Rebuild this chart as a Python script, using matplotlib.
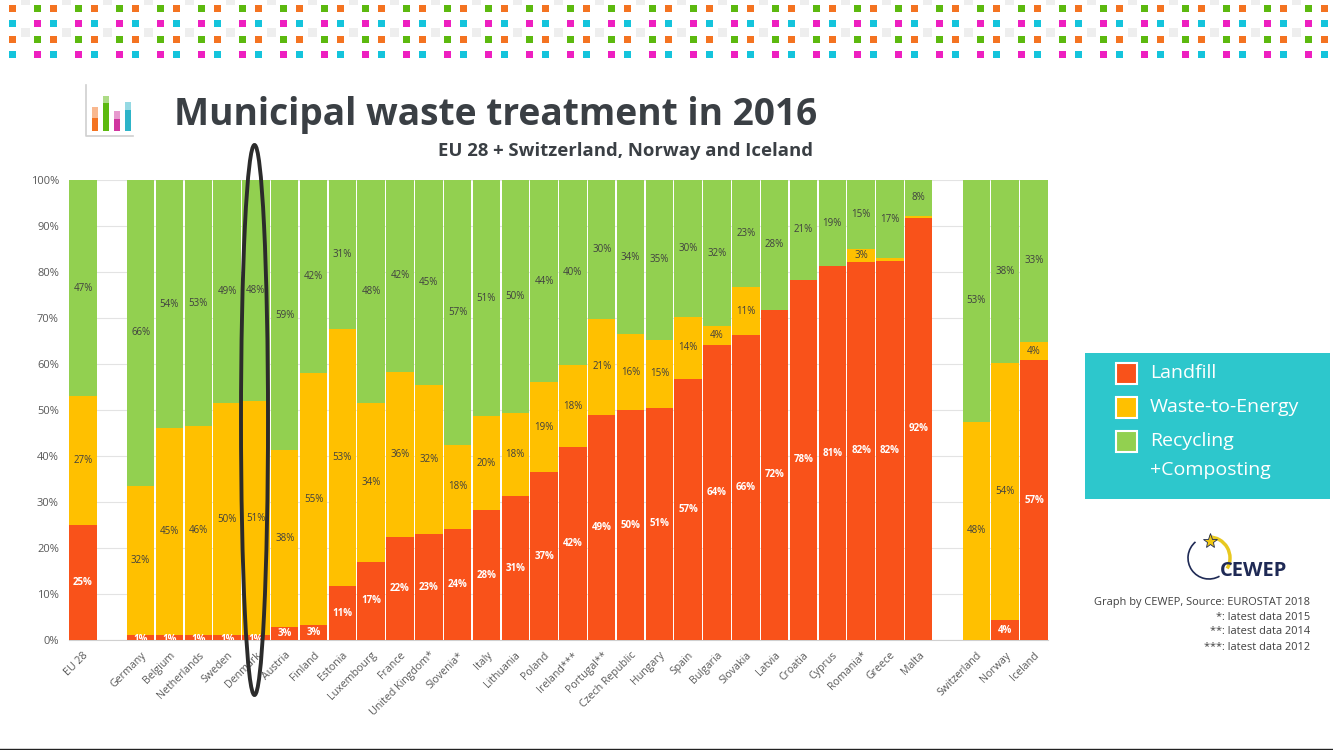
import numpy as np
import matplotlib
matplotlib.use('Agg')
import matplotlib.pyplot as plt
from matplotlib.patches import Ellipse, Rectangle, Arc
from matplotlib.transforms import ScaledTranslation

plt.rcParams['font.family'] = ['Open Sans', 'DejaVu Sans']

countries = ['EU 28', '', 'Germany', 'Belgium', 'Netherlands', 'Sweden', 'Denmark', 'Austria',
             'Finland', 'Estonia', 'Luxembourg', 'France', 'United Kingdom*', 'Slovenia*',
             'Italy', 'Lithuania', 'Poland', 'Ireland***', 'Portugal**', 'Czech Republic',
             'Hungary', 'Spain', 'Bulgaria', 'Slovakia', 'Latvia', 'Croatia', 'Cyprus',
             'Romania*', 'Greece', 'Malta', '', 'Switzerland', 'Norway', 'Iceland']

# bar heights
landfill = [25, 0, 1, 1, 1, 1, 1, 2.8, 3.2, 11.7, 17, 22.3, 23, 24.2, 28.2, 31.2, 36.5, 42, 49,
            50, 50.5, 56.8, 64.2, 66.2, 71.8, 78.3, 81.2, 82.2, 82.5, 91.8, 0, 0, 4.3, 60.8]
wte = [28, 0, 32.5, 45, 45.5, 50.5, 51, 38.5, 54.8, 56, 34.6, 36, 32.5, 18.3, 20.4, 18.2, 19.5,
       17.7, 20.7, 16.5, 14.8, 13.4, 4, 10.6, 0, 0, 0, 2.9, 0.5, 0.4, 0, 47.5, 56, 4]
recycling = [47, 0, 66.5, 54, 53.5, 48.5, 48, 58.7, 42, 32.3, 48.4, 41.7, 44.5, 57.5, 51.4, 50.6,
             44, 40.3, 30.3, 33.5, 34.7, 29.8, 31.8, 23.2, 28.2, 21.7, 18.8, 14.9, 17, 7.8, 0,
             52.5, 39.7, 35.2]

# printed labels, they do not always agree with the bar heights
landfill_lab = ['25%', '', '1%', '1%', '1%', '1%', '1%', '3%', '3%', '11%', '17%', '22%', '23%',
                '24%', '28%', '31%', '37%', '42%', '49%', '50%', '51%', '57%', '64%', '66%', '72%',
                '78%', '81%', '82%', '82%', '92%', '', '', '4%', '57%']
wte_lab = ['27%', '', '32%', '45%', '46%', '50%', '51%', '38%', '55%', '53%', '34%', '36%', '32%',
           '18%', '20%', '18%', '19%', '18%', '21%', '16%', '15%', '14%', '4%', '11%', '', '', '',
           '3%', '', '', '', '48%', '54%', '4%']
recycling_lab = ['47%', '', '66%', '54%', '53%', '49%', '48%', '59%', '42%', '31%', '48%', '42%',
                 '45%', '57%', '51%', '50%', '44%', '40%', '30%', '34%', '35%', '30%', '32%',
                 '23%', '28%', '21%', '19%', '15%', '17%', '8%', '', '53%', '38%', '33%']

# icon bar parts, in pixels
icon_low = [13, 28, 12, 21]
icon_high = [11, 7, 8, 8]

c_land = '#F9521A'
c_wte = '#FFC000'
c_rec = '#92D050'
c_text = '#595959'

fig = plt.figure(figsize=(13.33, 7.5), dpi=100)
W, H = 1333, 750

x0, x1, y_top, y_bot = 68.6, 1048.4, 180, 640
ax = fig.add_axes([x0 / W, 1 - y_bot / H, (x1 - x0) / W, (y_bot - y_top) / H])

x = np.arange(len(countries))
landfill = np.array(landfill)
wte = np.array(wte)
recycling = np.array(recycling)

ax.bar(x, landfill, width=0.95, color=c_land, zorder=3)
ax.bar(x, wte, width=0.95, bottom=landfill, color=c_wte, zorder=3)
ax.bar(x, recycling, width=0.95, bottom=landfill + wte, color=c_rec, zorder=3)

for i in x:
    if landfill_lab[i]:
        # the 1% labels get cut off at the axis in the original
        ax.text(i, landfill[i] / 2 if landfill[i] > 1 else 0.1, landfill_lab[i], ha='center', va='center',
                fontsize=7, color='white', fontweight='bold', zorder=4, clip_on=True)
    if wte_lab[i]:
        ax.text(i, landfill[i] + wte[i] / 2, wte_lab[i], ha='center', va='center',
                fontsize=7, color='#404040', zorder=4)
    if recycling_lab[i]:
        ax.text(i, landfill[i] + wte[i] + recycling[i] / 2, recycling_lab[i], ha='center', va='center',
                fontsize=7, color='#404040', zorder=4)

ax.set_xlim(-0.5, len(countries) - 0.5)
ax.set_ylim(0, 100)
ax.set_yticks(np.arange(0, 101, 10))
ax.set_yticklabels([f'{v}%' for v in range(0, 101, 10)], fontsize=8, color=c_text)
ax.set_xticks([i for i in x if countries[i]])
ax.set_xticklabels([c for c in countries if c], rotation=45, ha='right', rotation_mode='anchor',
                   fontsize=7.7, color=c_text)
# labels sit a little left of the bar centre
shift = ScaledTranslation(-3 / 100, 0, fig.dpi_scale_trans)
for lab in ax.get_xticklabels():
    lab.set_transform(lab.get_transform() + shift)
ax.tick_params(length=0, pad=7)
ax.grid(axis='y', color='#e3e3e3', lw=0.8, zorder=0)
for s in ['top', 'right', 'left']:
    ax.spines[s].set_visible(False)
ax.spines['bottom'].set_color('#d0d0d0')

# everything around the chart is placed in pixels
ov = fig.add_axes([0, 0, 1, 1], zorder=5)
ov.set_xlim(0, W)
ov.set_ylim(H, 0)
ov.axis('off')
ov.patch.set_alpha(0)

# dotted banner
for row, yy in enumerate([8, 23, 39, 54]):
    for k in range(33):
        cols = ('#F47321', '#5CB90F') if row % 2 == 0 else ('#14C4DC', '#EE1FC0')
        ov.add_patch(Rectangle((12 + 41 * k - 3.5, yy - 3.5), 7, 7, color=cols[0], lw=0))
        ov.add_patch(Rectangle((37 + 41 * k - 3.5, yy - 3.5), 7, 7, color=cols[1], lw=0))
        if row < 2:
            ov.add_patch(Rectangle((25 + 41 * k - 4, (0 if row == 0 else 32) - 4), 9, 9, color='#eeeeee', lw=0))

# little chart icon
ov.plot([86, 86, 133], [85, 136, 136], color='#cfcfcf', lw=1.2)
for i, (lo, hi) in enumerate(zip(icon_low, icon_high)):
    bx = 95 + i * 11
    col = ['#F47321', '#5CB90F', '#D0359F', '#2DB4C8'][i]
    ov.bar(bx, -lo, width=6, bottom=131, color=col)
    ov.bar(bx, -hi, width=6, bottom=131 - lo, color=col, alpha=0.5)

ov.text(174, 115, 'Municipal waste treatment in 2016', fontsize=26.7, fontweight='bold',
        color='#3A3F44', va='center', ha='left')
ov.text(813, 151, 'EU 28 + Switzerland, Norway and Iceland', fontsize=13.3, fontweight='bold',
        color='#3A3F44', va='center', ha='right')

# highlight around Denmark
ov.add_patch(Ellipse((254.5, 420), 27, 550, fill=False, ec='#2b2b2b', lw=2.8))

# legend box
ov.add_patch(Rectangle((1085, 353), 245, 146, color='#2DC7CC', lw=0))
for yy, col in zip([373, 407, 441], [c_land, c_wte, c_rec]):
    ov.add_patch(Rectangle((1116, yy - 10), 21, 21, fc=col, ec='white', lw=1.5))
for yy, txt in zip([373, 407, 441, 470], ['Landfill', 'Waste-to-Energy', 'Recycling', '+Composting']):
    ov.text(1150, yy, txt, fontsize=14, color='white', va='center', ha='left')

# CEWEP logo, roughly
ov.add_patch(Arc((1209, 558), 42, 42, theta1=60, theta2=230, color='#1F2A55', lw=1.2))
ov.add_patch(Arc((1209, 558), 42, 42, theta1=270, theta2=390, color='#E8C820', lw=2.5))
ov.plot([1210], [541], marker='*', ms=11, color='#F2C80F', mec='#1F2A55', mew=0.6)
ov.text(1287, 571, 'CEWEP', fontsize=14.5, fontweight='bold', color='#1F2A55', ha='right', va='center')

notes = ['Graph by CEWEP, Source: EUROSTAT 2018', '*: latest data 2015', '**: latest data 2014',
         '***: latest data 2012']
for yy, txt in zip([603, 618, 632, 647], notes):
    ov.text(1310, yy, txt, fontsize=7.9, color='#404040', ha='right', va='center')

ov.plot([0, W], [748.5, 748.5], color='#222222', lw=1)

fig.savefig('out.png', dpi=100)
